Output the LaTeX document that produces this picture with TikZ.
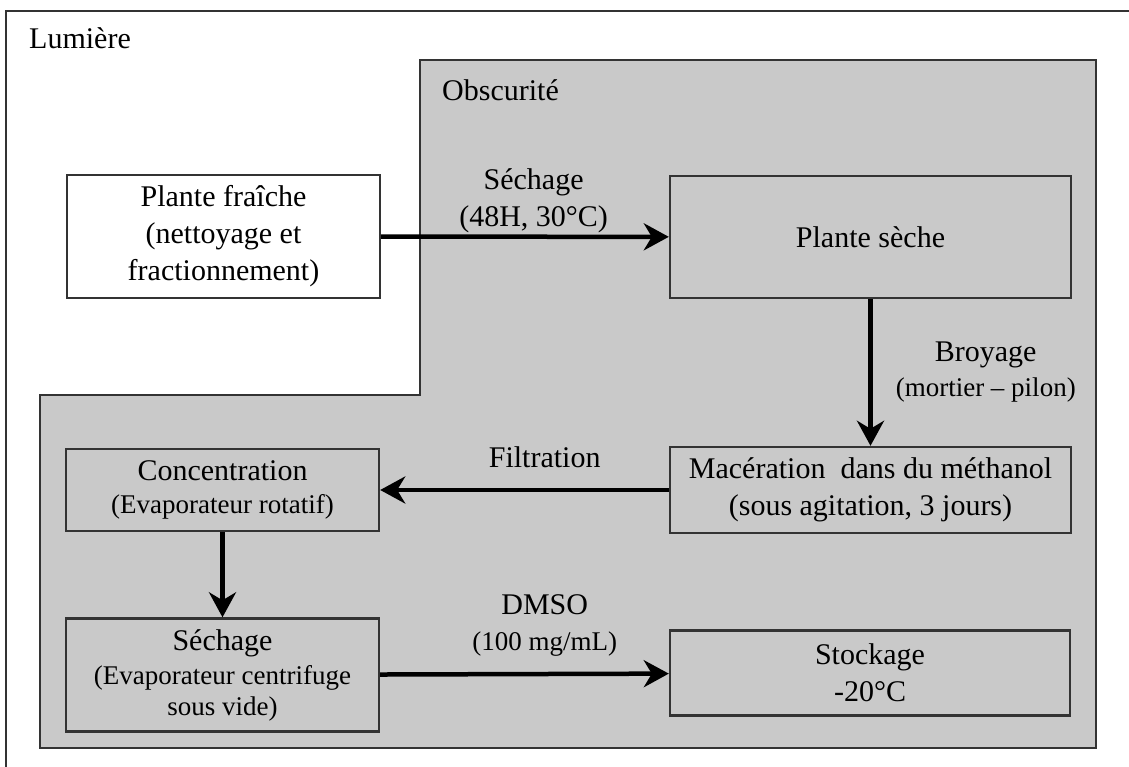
\documentclass[tikz,border=0pt]{standalone}
\usepackage{fontspec}
\setmainfont{Liberation Serif}
\usetikzlibrary{arrows.meta}

\definecolor{obscur}{gray}{0.79}
\definecolor{trait}{gray}{0.2}
\newcommand\petit{\fontsize{27}{34}\selectfont}

\begin{document}
\begin{tikzpicture}[x=1pt, y=-1pt,
    every node/.style={font=\fontsize{30}{37}\selectfont},
    box/.style={draw=trait, line width=2.4pt, align=center, inner sep=0pt},
    flow/.style={line width=4.5pt, -{Stealth[length=25pt, width=27pt, inset=8pt]}},
    lbl/.style={align=center, inner sep=0pt}]
    \useasboundingbox (0,0) rectangle (1129,767);

    % zones
    \draw[draw=trait, line width=2pt] (6,800) -- (6,11) -- (1200,11);
    \draw[draw=trait, line width=2.4pt, fill=obscur] (420,60) -- (1096,60) -- (1096,748)
        -- (40,748) -- (40,395) -- (420,395) -- cycle;
    \node (lum) at (29,38) [lbl, anchor=west] {Lumière};
    \node (obs) at (442,90) [lbl, anchor=west] {Obscurité};

    % etapes
    \node (fresh) at (223.5,236.5) [box, fill=white, minimum width=313pt, minimum height=123pt]
        {Plante fraîche\\(nettoyage et\\fractionnement)};
    \node (dry) at (870.5,237) [box, minimum width=401pt, minimum height=122pt] {Plante sèche};
    \node (macer) at (870.5,490) [box, minimum width=401pt, minimum height=86pt]
        {Macération\ \ dans du méthanol\\(sous agitation, 3 jours)};
    \node (conc) at (222.5,490) [box, minimum width=313pt, minimum height=82pt]
        {Concentration\\[-4pt]{\petit (Evaporateur rotatif)}};
    \node (sech) at (222.5,675) [box, minimum width=313pt, minimum height=113pt]
        {Séchage\\[-3pt]{\petit (Evaporateur centrifuge}\\[-6pt]{\petit sous vide)}};
    \node (stock) at (870,673) [box, minimum width=400pt, minimum height=85pt]
        {Stockage\\-20°C};

    \draw[flow] (fresh) -- (dry) node [lbl, pos=0.53, above=2pt] {Séchage\\(48H, 30°C)};
    \draw[flow] (dry) -- (macer) node [lbl, midway, right=23pt] {Broyage\\[-2pt]{\petit (mortier – pilon)}};
    \draw[flow] (macer) -- (conc) node [lbl, pos=0.43, above=20pt] {Filtration};
    \draw[flow] (sech) -- (stock) node [lbl, pos=0.57, above=15pt] {DMSO\\[-1pt]{\petit (100 mg/mL)}};
    \draw[flow] (conc) -- (sech);
\end{tikzpicture}
\end{document}
